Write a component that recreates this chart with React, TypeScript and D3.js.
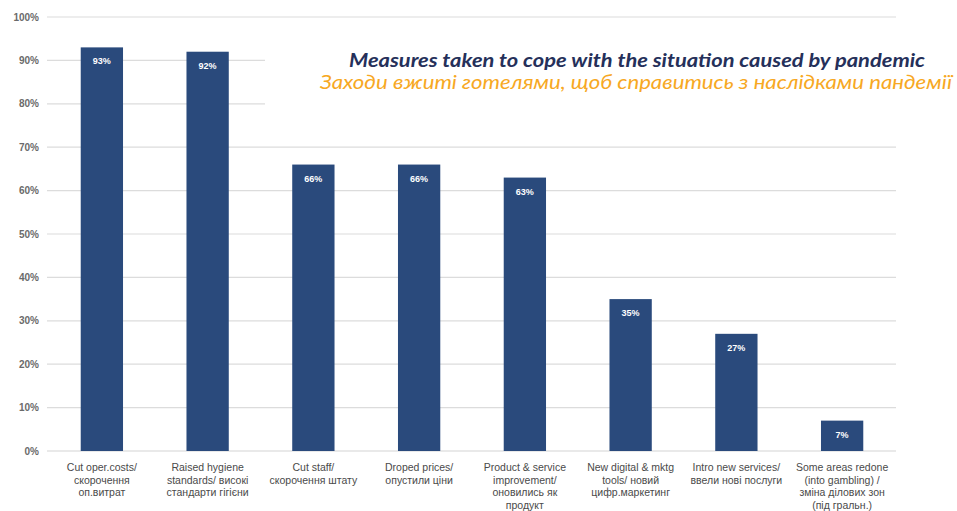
import React from "react";
import * as d3 from "d3";

const categories: string[][] = [
  ["Cut oper.costs/", "скорочення", "оп.витрат"],
  ["Raised hygiene", "standards/ виcокі", "стандарти гігієни"],
  ["Cut staff/", "скорочення штату"],
  ["Droped prices/", "опустили ціни"],
  ["Product & service", "improvement/", "оновились як", "продукт"],
  ["New digital & mktg", "tools/ новий", "цифр.маркетинг"],
  ["Intro new services/", "ввели нові послуги"],
  ["Some areas redone", "(into gambling) /", "зміна ділових зон", "(під гральн.)"],
];
const values: number[] = [93, 92, 66, 66, 63, 35, 27, 7];
const valueLabels: string[] = ["93%", "92%", "66%", "66%", "63%", "35%", "27%", "7%"];
const yTicks: number[] = [0, 10, 20, 30, 40, 50, 60, 70, 80, 90, 100];
const titleEn = "Measures taken to cope with the situation caused by pandemic";
const titleUa = "Заходи вжиті готелями, щоб справитись з наслідками пандемії";

const W = 957;
const H = 511;
const left = 47;
const right = 896;
const top = 17;
const bottom = 451;

export default function App() {
  const x = d3
    .scaleBand<number>()
    .domain(d3.range(values.length))
    .range([49, 895])
    .paddingInner(0.6)
    .paddingOuter(0.3);
  const y = d3.scaleLinear().domain([0, 100]).range([bottom, top]);
  const font = "Liberation Sans, Arial, sans-serif";

  return (
    <svg
      width={W}
      height={H}
      style={{ position: "absolute", left: 0, top: 0, background: "#fff" }}
    >
      {yTicks.map((t) => (
        <g key={t}>
          <line
            x1={left}
            x2={right}
            y1={y(t)}
            y2={y(t)}
            stroke={t === 0 ? "#d4d4d4" : "#dcdcdc"}
            strokeWidth={1.2}
          />
          <text
            x={39}
            y={y(t)}
            dy="0.35em"
            textAnchor="end"
            fontFamily={font}
            fontSize={10}
            fontWeight="bold"
            fill="#6a6a6a"
          >
            {t}%
          </text>
        </g>
      ))}
      <rect x={265} y={22} width={692} height={118} fill="#fff" />
      {values.map((v, i) => (
        <g key={i}>
          <rect
            x={x(i)}
            y={y(v)}
            width={x.bandwidth()}
            height={bottom - y(v)}
            fill="#2a4a7c"
          />
          <text
            x={(x(i) as number) + x.bandwidth() / 2}
            y={y(v) + 17}
            textAnchor="middle"
            fontFamily={font}
            fontSize={9}
            fontWeight="bold"
            fill="#ffffff"
          >
            {valueLabels[i]}
          </text>
          {categories[i].map((line, j) => (
            <text
              key={j}
              x={(x(i) as number) + x.bandwidth() / 2}
              y={471 + j * 12.5}
              textAnchor="middle"
              fontFamily={font}
              fontSize={10.5}
              fill="#4a4a4a"
            >
              {line}
            </text>
          ))}
        </g>
      ))}
      <text
        x={637}
        y={67}
        textAnchor="middle"
        fontFamily="Lato, sans-serif"
        fontStyle="italic"
        fontWeight="bold"
        fontSize={19}
        fill="#25305a"
        textLength={576}
        lengthAdjust="spacingAndGlyphs"
      >
        {titleEn}
      </text>
      <text
        x={636}
        y={89}
        textAnchor="middle"
        fontFamily="Lato, sans-serif"
        fontStyle="italic"
        fontSize={18.5}
        fill="#f7a823"
        textLength={632}
        lengthAdjust="spacingAndGlyphs"
      >
        {titleUa}
      </text>
    </svg>
  );
}
